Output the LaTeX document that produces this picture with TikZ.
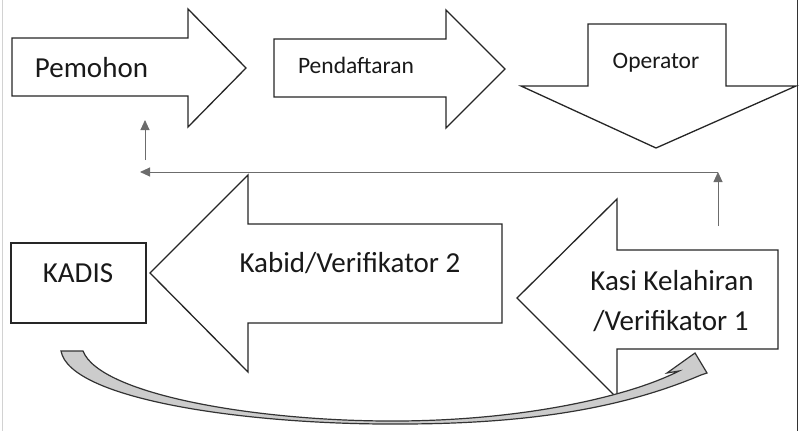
\documentclass[tikz,border=0pt]{standalone}
\usepackage{fontspec}
\setmainfont{Carlito}
\usetikzlibrary{arrows.meta}
\begin{document}
\begin{tikzpicture}[x=1pt,y=-1pt,
  blockarrow/.style={draw=black!85, line width=1.3pt, fill=white, line join=miter},
  lbl/.style={anchor=base, inner sep=0pt, font=\fontsize{29}{31}\selectfont, text=black!90},
  slbl/.style={lbl, font=\fontsize{23.5}{26}\selectfont},
  link/.style={draw=gray!85!black, line width=0.9pt, -{Triangle[length=10pt,width=9pt]}}]
\useasboundingbox (0,0) rectangle (803,431);
% frame lines
\draw[gray!35, line width=1pt] (2,0) -- (2,431);
\draw[black!80, line width=1.3pt] (797.5,0) -- (797.5,431);

% block arrows
\draw[blockarrow] (12,38) -- (188,38) -- (188,9) -- (246,68) -- (188,127) -- (188,96) -- (12,96) -- cycle;
\draw[blockarrow] (274,39) -- (446,39) -- (446,10) -- (505,69) -- (446,128) -- (446,97) -- (274,97) -- cycle;
\draw[blockarrow] (588,24) -- (726,24) -- (726,86) -- (796,86) -- (656,148) -- (521,86) -- (588,86) -- cycle;
\draw[blockarrow] (502,224) -- (248,224) -- (248,175) -- (150,273) -- (248,372) -- (248,323) -- (502,323) -- cycle;
\draw[blockarrow] (778,250) -- (617,250) -- (617,199) -- (517,298) -- (617,398) -- (617,349) -- (778,349) -- cycle;
\draw[blockarrow] (11,243) rectangle (146,323);

% labels
\node[lbl]  (pemohon)  at (91.5,77) {Pemohon};
\node[slbl] (daftar)   at (356,73)  {Pendaftaran};
\node[slbl] (operator) at (656,68)  {Operator};
\node[lbl]  (kadis)    at (78,282)  {KADIS};
\node[lbl]  (kabid)    at (350,272) {Kabid/Verifikator 2};
\node[lbl]  (kasi1)    at (672,290) {Kasi Kelahiran};
\node[lbl]  (kasi2)    at (671,330) {/Verifikator 1};

% return connectors
\coordinate (r1) at (718,226);
\coordinate (r2) at (718,172);
\coordinate (r3) at (140,172);
\coordinate (r4) at (145,160);
\coordinate (r5) at (145,120);
\draw[link] (r1) -- (r2);
\draw[link] (r2) -- (r3);
\draw[link] (r4) -- (r5);

% curved arrow from KADIS to Kasi
\draw[draw=black!80, line width=1.2pt, fill=gray!40, line join=miter]
  (61,351) .. controls (70,400) and (250,425) .. (400,424)
  .. controls (540,424) and (630,405) .. (701,375)
  -- (707,373) -- (695,353) -- (667,373) -- (679,371)
  .. controls (632,395) and (530,420) .. (400,421)
  .. controls (260,422) and (100,395) .. (83,351) -- cycle;
\end{tikzpicture}
\end{document}
